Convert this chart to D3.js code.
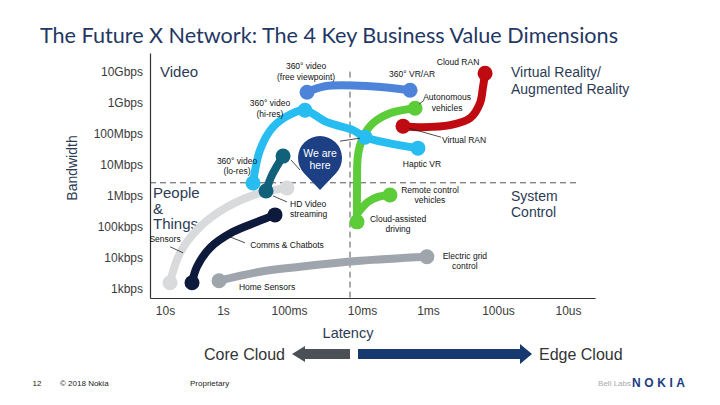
<!DOCTYPE html>
<meta charset="utf-8">
<head>
  <style>
    body { margin: 0; background: #fff; }
    svg text { font-family: "Liberation Sans", Arial, sans-serif; }
    .axis .tick text { font-size: 12px; fill: #3a3a3a; }
    .axis path { stroke: #333; stroke-width: 1.2; }
    .lbl { font-size: 8.5px; fill: #111; }
    .quad { font-size: 15px; fill: #2c3b55; }
    .foot { font-size: 8px; fill: #222; }
  </style>
</head>
<body>
<div id="chart"></div>
<script src="https://d3js.org/d3.v7.min.js"></script>
<script>
// axis ticks
var yTicks = [1e3, 1e4, 1e5, 1e6, 1e7, 1e8, 1e9, 1e10];
var yLabels = ["1kbps", "10kbps", "100kbps", "1Mbps", "10Mbps", "100Mbps", "1Gbps", "10Gbps"];
var xTicks = [10, 1, 0.1, 0.01, 0.001, 1e-4, 1e-5];
var xLabels = ["10s", "1s", "100ms", "10ms", "1ms", "100us", "10us"];

// quadrant split (latency s, bandwidth bps)
var latSplit = 0.0146, bwSplit = 2.6e6;

// series: [latency in s, bandwidth in bps]
var videoFree = [[0.0566, 2.16e9], [0.0322, 3.37e9], [0.00757, 3.37e9], [0.00187, 2.5e9]];
var videoRes = [[0.351, 2.56e6], [0.275, 2.94e7], [0.175, 1.62e8], [0.0881, 4.56e8], [0.0604, 5.7e8],
                [0.0301, 2.34e8], [0.0133, 1.3e8], [0.00901, 7.7e7], [0.00142, 3.4e7]];
var hdVideo = [[0.123, 1.89e7], [0.181, 4.6e6], [0.223, 1.42e6]];
var sensors = [[8.2, 1560], [5.5, 14400], [2.49, 98600], [0.87, 4.3e5], [0.275, 1.22e6], [0.107, 1.77e6]];
var comms = [[3.42, 1560], [2.81, 5090], [1.67, 20800], [0.705, 68000], [0.305, 1.43e5], [0.163, 2.4e5]];
var homeSensors = [[1.17, 1810], [0.275, 3520], [0.0706, 5100], [0.0106, 7940], [0.00104, 10700]];
var vehicles = [[0.00157, 6.6e8], [0.00377, 4.56e8], [0.00681, 2.18e8], [0.00966, 7.7e7],
                [0.01135, 2.04e7], [0.0117, 2.2e6], [0.0117, 1.43e5]];
var remoteCtl = [[0.0117, 2.58e5], [0.00811, 6.3e5], [0.00573, 9.1e5], [0.00377, 1.05e6]];
var ran = [[1.53e-4, 8.8e9], [1.64e-4, 3.13e9], [1.81e-4, 9.6e8], [2.51e-4, 3.15e8],
           [4.85e-4, 1.87e8], [1.19e-3, 1.62e8], [2.39e-3, 1.74e8]];
var weAreHere = [0.0376, 1.52e6];

var svg = d3.select("#chart").append("svg")
    .attr("width", 720)
    .attr("height", 405);

// x: piecewise log, one segment per labelled decade
var x = d3.scaleLog()
    .domain([18].concat(xTicks, [4.1e-6]))
    .range([150, 165, 223, 289, 362, 428, 498, 568, 595]);
var y = d3.scaleLog()
    .domain([Math.pow(10, 2.7), Math.pow(10, 10.6)])
    .range([298, 53]);

// title
svg.append("text")
    .attr("x", 40).attr("y", 43)
    .attr("textLength", 578)
    .attr("lengthAdjust", "spacingAndGlyphs")
    .style("font-family", "Lato, 'Open Sans', sans-serif")
    .style("font-size", "21px")
    .style("fill", "#1f3864")
    .text("The Future X Network: The 4 Key Business Value Dimensions");

// quadrant dividers
svg.append("line")
    .attr("x1", x(latSplit)).attr("x2", x(latSplit))
    .attr("y1", y(1e10)).attr("y2", y.range()[0])
    .attr("stroke", "#555").attr("stroke-dasharray", "6,4");
svg.append("line")
    .attr("x1", x.range()[0]).attr("x2", x(7.2e-6))
    .attr("y1", y(bwSplit)).attr("y2", y(bwSplit))
    .attr("stroke", "#555").attr("stroke-dasharray", "6,4");

// axes
svg.append("g")
    .attr("class", "axis")
    .attr("transform", "translate(150,0)")
    .call(d3.axisLeft(y).tickValues(yTicks).tickFormat(function(d, i) { return yLabels[i]; })
      .tickSize(0).tickPadding(7));
svg.append("g")
    .attr("class", "axis")
    .attr("transform", "translate(0,298)")
    .call(d3.axisBottom(x).tickValues(xTicks).tickFormat(function(d, i) { return xLabels[i]; })
      .tickSize(0).tickPadding(8));

svg.append("text")
    .attr("transform", "translate(77,168) rotate(-90)")
    .attr("text-anchor", "middle")
    .style("font-size", "14px").style("fill", "#2c3b55")
    .text("Bandwidth");
svg.append("text")
    .attr("x", 348).attr("y", 333).attr("dy", "0.35em")
    .attr("text-anchor", "middle")
    .style("font-size", "14.5px").style("fill", "#2c3b55")
    .text("Latency");

// quadrant names
var quads = [
  { t: ["Video"], x: 160, y: 72, s: 15, lh: 17 },
  { t: ["People", "&", "Things"], x: 153, y: 193, s: 15, lh: 15.5 },
  { t: ["Virtual Reality/", "Augmented Reality"], x: 511, y: 72, s: 14, lh: 17 },
  { t: ["System", "Control"], x: 511, y: 196, s: 14, lh: 16 }
];
quads.forEach(function(q) {
  q.t.forEach(function(line, i) {
    svg.append("text")
        .attr("class", "quad")
        .attr("x", q.x).attr("y", q.y + i * q.lh).attr("dy", "0.35em")
        .style("font-size", q.s + "px")
        .text(line);
  });
});

// series lines
var line = d3.line()
    .x(function(d) { return x(d[0]); })
    .y(function(d) { return y(d[1]); })
    .curve(d3.curveCatmullRom.alpha(0.5));

var traces = [
  { data: sensors, color: "#d9dadc", dots: [0, 5] },
  { data: comms, color: "#0d1a3b", dots: [0, 5] },
  { data: homeSensors, color: "#9fa5ad", dots: [0, 4] },
  { data: vehicles, color: "#5dcc39", dots: [0, 6] },
  { data: remoteCtl, color: "#5dcc39", dots: [3] },
  { data: ran, color: "#be0a10", dots: [0, 6] },
  { data: videoFree, color: "#4d84d9", dots: [0, 3] },
  { data: videoRes, color: "#27bdf0", dots: [0, 4, 7, 8] },
  { data: hdVideo, color: "#106179", dots: [0, 2] }
];

traces.forEach(function(t) {
  svg.append("path")
      .datum(t.data)
      .attr("d", line)
      .attr("fill", "none")
      .attr("stroke", t.color)
      .attr("stroke-width", 8)
      .attr("stroke-linecap", "round")
      .attr("stroke-linejoin", "round");
  svg.selectAll(null)
      .data(t.dots.map(function(i) { return t.data[i]; }))
      .enter().append("circle")
      .attr("cx", function(d) { return x(d[0]); })
      .attr("cy", function(d) { return y(d[1]); })
      .attr("r", 7.5)
      .attr("fill", t.color);
});

// annotations, offsets are from the anchor point
var notes = [
  { on: videoFree, i: 0, t: ["360° video", "(free viewpoint)"], dx: -1, dy: -26 },
  { on: videoFree, i: 3, t: ["360° VR/AR"], dx: 2, dy: -16 },
  { on: videoRes, i: 4, t: ["360° video", "(hi-res)"], dx: -35, dy: -7 },
  { on: videoRes, i: 0, t: ["360° video", "(lo-res)"], dx: -16, dy: -22 },
  { on: videoRes, i: 8, t: ["Haptic VR"], dx: 4, dy: 16 },
  { on: ran, i: 6, t: ["Virtual RAN"], dx: 61, dy: 14, lead: [6, 2, 38, 11] },
  { on: ran, i: 0, t: ["Cloud RAN"], dx: -27, dy: -11 },
  { on: vehicles, i: 0, t: ["Autonomous", "vehicles"], dx: 32, dy: -11, lead: [4, -4, 9, -8] },
  { on: remoteCtl, i: 3, t: ["Remote control", "vehicles"], dx: 40, dy: -5 },
  { on: vehicles, i: 6, t: ["Cloud-assisted", "driving"], dx: 41, dy: -3 },
  { on: homeSensors, i: 4, t: ["Electric grid", "control"], dx: 38, dy: -1 },
  { on: homeSensors, i: 0, t: ["Home Sensors"], dx: 48, dy: 6 },
  { on: comms, i: 3, t: ["Comms & Chatbots"], dx: 54, dy: 13, lead: [-3, 5, 12, 11] },
  { on: sensors, i: 1, t: ["Sensors"], dx: -15, dy: -14, lead: [-10, -6, 3, 0] },
  { on: hdVideo, i: 2, t: ["HD Video", "streaming"], dx: 24, dy: 13, lead: [7, 5, 21, 11], start: true },
  { on: hdVideo, i: 0, t: [], dx: 0, dy: 0, lead: [8, 4, 17, 14] },
  { on: videoRes, i: 7, t: [], dx: 0, dy: 0, lead: [-5, 1, -25, 4] }
];

notes.forEach(function(n) {
  var px = x(n.on[n.i][0]), py = y(n.on[n.i][1]);
  if (n.lead) {
    svg.append("line")
        .attr("x1", px + n.lead[0]).attr("y1", py + n.lead[1])
        .attr("x2", px + n.lead[2]).attr("y2", py + n.lead[3])
        .attr("stroke", "#222").attr("stroke-width", 0.8);
  }
  n.t.forEach(function(s, k) {
    svg.append("text")
        .attr("class", "lbl")
        .attr("x", px + n.dx).attr("y", py + n.dy + k * 10.5).attr("dy", "0.35em")
        .attr("text-anchor", n.start ? "start" : "middle")
        .text(s);
  });
});

// "We are here" pin
var tip = [x(weAreHere[0]), y(weAreHere[1])];
var pr = 22, pd = 32;
var a = Math.acos(pr / pd);
var tx = pr * Math.sin(a), ty = -pd + pr * Math.cos(a);
var pin = svg.append("g").attr("transform", "translate(" + tip[0] + "," + tip[1] + ")");
pin.append("path")
    .attr("d", "M0,0L" + (-tx) + "," + ty + "A" + pr + "," + pr + " 0 1,1 " + tx + "," + ty + "Z")
    .attr("fill", "#1d3f84");
pin.selectAll("text")
    .data(["We are", "here"])
    .enter().append("text")
    .attr("x", 0).attr("y", function(d, i) { return -pd - 5 + i * 12; })
    .attr("dy", "0.35em")
    .attr("text-anchor", "middle")
    .style("font-size", "10.5px").style("fill", "#fff")
    .text(function(d) { return d; });

// Core / Edge cloud arrows
svg.append("path")
    .attr("d", "M292,354L305,346L305,349L350,349L350,359L305,359L305,362Z")
    .attr("fill", "#4b5056");
svg.append("path")
    .attr("d", "M358,349L520,349L520,344L532,354L520,364L520,359L358,359Z")
    .attr("fill", "#17396f");
svg.append("text")
    .attr("x", 285).attr("y", 354).attr("dy", "0.35em")
    .attr("text-anchor", "end")
    .style("font-size", "16px").style("fill", "#333")
    .text("Core Cloud");
svg.append("text")
    .attr("x", 539).attr("y", 354).attr("dy", "0.35em")
    .style("font-size", "16px").style("fill", "#333")
    .text("Edge Cloud");

// footer
svg.append("text").attr("class", "foot").attr("x", 37).attr("y", 383).attr("dy", "0.35em")
    .attr("text-anchor", "middle").text("12");
svg.append("text").attr("class", "foot").attr("x", 60).attr("y", 383).attr("dy", "0.35em")
    .text("© 2018 Nokia");
svg.append("text").attr("class", "foot").attr("x", 190).attr("y", 383).attr("dy", "0.35em")
    .text("Proprietary");
svg.append("text").attr("x", 631).attr("y", 383).attr("dy", "0.35em")
    .attr("text-anchor", "end")
    .style("font-size", "8px").style("fill", "#aaa")
    .text("Bell Labs");
svg.append("text").attr("x", 632).attr("y", 383).attr("dy", "0.35em")
    .attr("textLength", 53)
    .style("font-size", "12px").style("font-weight", "bold").style("fill", "#1d3b82")
    .text("NOKIA");
</script>
</body>
